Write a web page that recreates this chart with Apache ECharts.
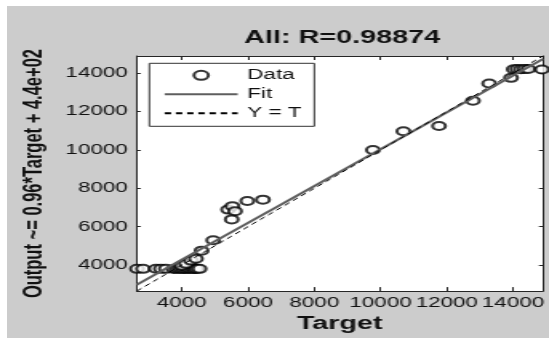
<!DOCTYPE html>
<html>
<head>
<meta charset="utf-8">
<script src="https://cdn.jsdelivr.net/npm/echarts@6/dist/echarts.min.js"></script>
<style>
  html, body { margin: 0; padding: 0; background: #fff; overflow: hidden; }
  #frame { position: absolute; left: 7px; top: 6px; width: 542px; height: 332px; background: #cccccc; }
  /* the reference is stretched sideways, so the chart is drawn narrow and scaled */
  #chart { position: absolute; left: 0; top: 0; width: 343px; height: 338px; transform: scaleX(1.6006); transform-origin: 0 0; }
</style>
</head>
<body>
<div id="frame"></div>
<div id="chart"></div>
<script>
  const targets = [
    2650, 2830, 3220, 3370, 3520, 3760, 3850, 3930, 4000, 4070, 4140, 4200, 4270, 4340, 4400, 4460, 4540,
    4000, 4130, 4280, 4430, 4600, 4950,
    5400, 5530, 5610, 5510, 5980, 6450,
    9770, 10690, 11765, 12790, 13280, 13940,
    14020, 14130, 14240, 14350, 14460, 14870
  ]
  const outputs = [
    3800, 3800, 3810, 3800, 3800, 3790, 3800, 3810, 3800, 3790, 3800, 3810, 3800, 3800, 3790, 3800, 3800,
    3960, 4060, 4230, 4330, 4750, 5290,
    6890, 7070, 6810, 6380, 7340, 7410,
    10000, 10980, 11250, 12570, 13470, 13760,
    14210, 14220, 14210, 14220, 14220, 14200
  ]
  const axisLimits = [2640, 14900]
  const tickValues = [4000, 6000, 8000, 10000, 12000, 14000]
  const fitLine = [[2640, 2974], [14900, 14744]] // Output ~= 0.96*Target + 4.4e+02
  const identityLine = [[2640, 2640], [14900, 14900]]

  const font = 'Liberation Sans, Arial, sans-serif'
  const ink = '#111'
  const axisColor = '#262626'

  function makeAxis(pos, tickLen, extra) {
    return Object.assign({
      type: 'value',
      position: pos,
      min: axisLimits[0],
      max: axisLimits[1],
      axisLine: { show: true, onZero: false, lineStyle: { color: axisColor, width: 1 } },
      axisTick: { show: true, inside: true, length: tickLen, customValues: tickValues, lineStyle: { color: axisColor } },
      axisLabel: { show: false },
      splitLine: { show: false },
    }, extra)
  }

  const labelStyle = {
    show: true,
    customValues: tickValues,
    hideOverlap: false,
    formatter: (v) => String(v),
    fontSize: 14,
    color: ink,
    fontFamily: font,
  }

  const myChart = echarts.init(document.getElementById('chart'))
  const option = {
    animation: false,
    title: {
      text: 'All: R=0.98874',
      left: 152.4,
      top: 29,
      padding: 0,
      textStyle: { fontSize: 18, fontWeight: 'bold', color: ink, fontFamily: font },
    },
    grid: { left: 85.4, right: 1.1, top: 56, bottom: 43, show: true, backgroundColor: '#fff', borderWidth: 0 },
    legend: {
      orient: 'vertical',
      left: 93.3,
      top: 63.3,
      itemWidth: 45.6,
      itemHeight: 9,
      itemGap: 5,
      padding: [5, 8, 6, 8.6],
      backgroundColor: '#fff',
      borderColor: '#333',
      borderWidth: 1,
      selectedMode: false,
      textStyle: { fontSize: 14, color: ink, fontFamily: font, padding: [0, 0, 0, 1] },
      data: [
        { name: 'Data', itemStyle: { borderWidth: 1 } },
        { name: 'Fit', itemStyle: { opacity: 0 } },
        { name: 'Y = T', itemStyle: { opacity: 0 } },
      ],
    },
    xAxis: [
      makeAxis('bottom', 4, {
        axisLabel: Object.assign({ margin: 5 }, labelStyle),
        name: 'Target',
        nameLocation: 'middle',
        nameGap: 22,
        nameTextStyle: { fontSize: 18, fontWeight: 'bold', color: ink, fontFamily: font },
      }),
      makeAxis('top', 4),
    ],
    yAxis: [
      makeAxis('left', 2.5, {
        axisLabel: Object.assign({ margin: 5.6 }, labelStyle),
        name: 'Output ~= 0.96*Target + 4.4e+02',
        nameLocation: 'middle',
        nameGap: 45,
        nameTextStyle: { fontSize: 16.5, fontWeight: 'bold', color: ink, fontFamily: font },
      }),
      makeAxis('right', 2.5),
    ],
    series: [
      {
        name: 'Data',
        type: 'scatter',
        symbol: 'emptyCircle',
        symbolSize: 8,
        itemStyle: { color: '#000', borderColor: '#000', borderWidth: 1 },
        data: targets.map((t, i) => [t, outputs[i]]),
      },
      {
        name: 'Fit',
        type: 'line',
        symbol: 'none',
        showSymbol: false,
        itemStyle: { color: '#5e5e5e' },
        lineStyle: { color: '#5e5e5e', width: 2 },
        data: fitLine,
      },
      {
        name: 'Y = T',
        type: 'line',
        symbol: 'none',
        showSymbol: false,
        itemStyle: { color: '#000' },
        lineStyle: { color: '#000', width: 1, type: [4, 3] },
        data: identityLine,
      },
    ],
  }
  myChart.setOption(option)
</script>
</body>
</html>
